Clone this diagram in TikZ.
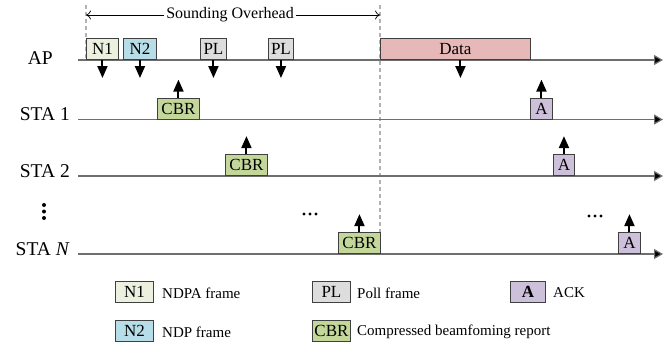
\documentclass[tikz,border=0pt]{standalone}
\usepackage{fontspec}
\setmainfont{Liberation Serif}
\usetikzlibrary{arrows.meta}
\definecolor{ndpacol}{HTML}{EBF1DE}
\definecolor{ndpcol}{HTML}{B7DEE8}
\definecolor{pollcol}{HTML}{DDDDDD}
\definecolor{cbrcol}{HTML}{C4D79B}
\definecolor{datacol}{HTML}{E6B9B8}
\definecolor{ackcol}{HTML}{CCC0DA}
\definecolor{linecol}{HTML}{6E6E6E}
\tikzset{
  pkt/.style={draw=black!75, line width=0.9pt, minimum height=21pt, inner sep=0pt,
    anchor=south west, font=\fontsize{17}{17}\selectfont},
  lbl/.style={anchor=base east, inner sep=0pt, font=\fontsize{19.5}{19.5}\selectfont},
  lgd/.style={anchor=west, inner sep=0pt, font=\fontsize{15}{15}\selectfont},
  fb/.style={line width=2pt, -{Triangle[width=10pt,length=12pt]}},
  timeline/.style={draw=linecol, line width=1.2pt, -{Triangle[width=10pt,length=9pt,fill=black]}},
  sep/.style={draw=gray!60, line width=1.2pt, dash pattern=on 4pt off 3pt}
}
\def\lineend{663}

\begin{document}
\begin{tikzpicture}[x=1pt,y=-1pt]
  \useasboundingbox (0,0) rectangle (663,349);

  % sounding overhead
  \coordinate (so1) at (86,5);
  \coordinate (so2) at (380,5);
  \draw[sep] (so1) -- (86,60);
  \draw[sep] (so2) -- (380,254);
  \draw[{To[length=5pt,width=9pt]}-{To[length=5pt,width=9pt]}, line width=0.7pt] (86,15) -- (380,15)
    node[pos=0.49, fill=white, inner sep=2pt, font=\fontsize{16}{16}\selectfont] (so) {Sounding Overhead};

  % timelines
  \node[lbl] (ap) at (53,64) {AP};
  \node[lbl] (sta1) at (70,120.5) {STA 1};
  \node[lbl] (sta2) at (70,177) {STA 2};
  \node[lbl] (stan) at (70,255) {STA \textit{N}};
  \draw[timeline] (78,60) -- (\lineend,60);
  \draw[timeline] (78,119.5) -- (\lineend,119.5);
  \draw[timeline] (78,176) -- (\lineend,176);
  \draw[timeline] (78,254) -- (\lineend,254);

  %dots
  \foreach \y in {205,211.5,218}
    \fill (44,\y) circle (2);
  \foreach \x in {304,310,316}
    \fill (\x,214) circle (1.6);
  \foreach \x in {589,595,601}
    \fill (\x,216) circle (1.6);

  % AP frames
  \node[pkt, fill=ndpacol, minimum width=32pt] (n1) at (86,60) {N1};
  \node[pkt, fill=ndpcol, minimum width=33pt] (n2) at (123,60) {N2};
  \node[pkt, fill=pollcol, minimum width=26pt] (pl1) at (200,60) {PL};
  \node[pkt, fill=pollcol, minimum width=25pt] (pl2) at (268,60) {PL};
  \node[pkt, fill=datacol, minimum width=150pt] (data) at (380,60) {Data};
  \draw[fb] (n1.south) -- ++(0,18);
  \draw[fb] (n2.south) -- ++(0,18);
  \draw[fb] (pl1.south) -- ++(0,18);
  \draw[fb] (pl2.south) -- ++(0,18);
  \draw[fb] ([xshift=5pt]data.south) -- ++(0,18);

  % STA frames
  \node[pkt, fill=cbrcol, minimum width=42pt] (cbr1) at (157,119.5) {CBR};
  \node[pkt, fill=ackcol, minimum width=22pt] (a1) at (530,119.5) {A};
  \node[pkt, fill=cbrcol, minimum width=42pt] (cbr2) at (225,176) {CBR};
  \node[pkt, fill=ackcol, minimum width=21pt] (a2) at (553,176) {A};
  \node[pkt, fill=cbrcol, minimum width=42pt] (cbrn) at (338,254) {CBR};
  \node[pkt, fill=ackcol, minimum width=22pt] (an) at (618,254) {A};
  \foreach \f in {cbr1,a1,cbr2,a2,cbrn,an}
    \draw[fb] (\f.north) -- ++(0,-18);

  % legend
  \node[pkt, fill=ndpacol, minimum width=38pt] (k1) at (115,303) {N1};
  \node[lgd] (k1t) at (162,293) {NDPA frame};
  \node[pkt, fill=pollcol, minimum width=38pt] (k2) at (312,303) {PL};
  \node[lgd] (k2t) at (357,293) {Poll frame};
  \node[pkt, fill=ackcol, minimum width=35pt] (k3) at (510,303) {\textbf{A}};
  \node[lgd] (k3t) at (553,293) {ACK};
  \node[pkt, fill=ndpcol, minimum width=38pt] (k4) at (115,342) {N2};
  \node[lgd] (k4t) at (162,332) {NDP frame};
  \node[pkt, fill=cbrcol, minimum width=38pt] (k5) at (312,342) {CBR};
  \node[lgd] (k5t) at (357,332) {Compressed beamfoming report};
\end{tikzpicture}
\end{document}
